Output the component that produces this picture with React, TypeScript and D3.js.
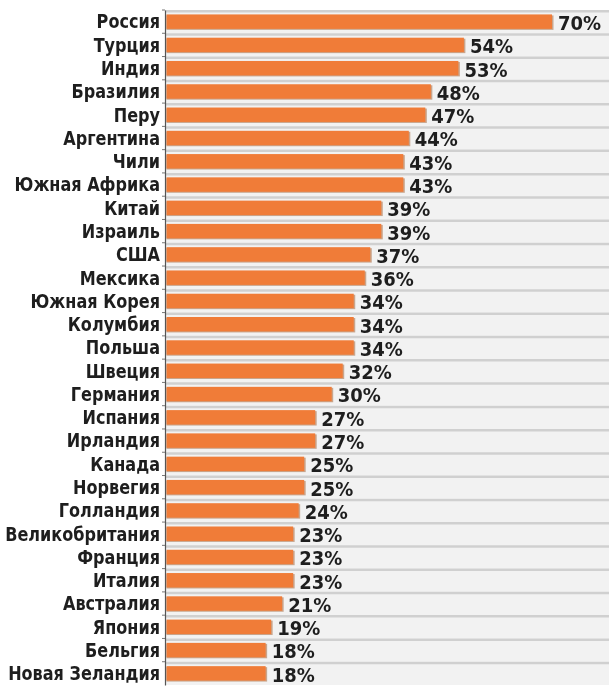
// @ts-nocheck
import { useRef, useEffect } from "react";
import * as d3 from "d3";

const countries = [
  "Россия", "Турция", "Индия", "Бразилия", "Перу", "Аргентина", "Чили",
  "Южная Африка", "Китай", "Израиль", "США", "Мексика", "Южная Корея",
  "Колумбия", "Польша", "Швеция", "Германия", "Испания", "Ирландия", "Канада",
  "Норвегия", "Голландия", "Великобритания", "Франция", "Италия", "Австралия",
  "Япония", "Бельгия", "Новая Зеландия",
];

const values = [
  70, 54, 53, 48, 47, 44, 43, 43, 39, 39, 37, 36, 34, 34, 34, 32, 30, 27, 27,
  25, 25, 24, 23, 23, 23, 21, 19, 18, 18,
];

const FONT = "'DejaVu Sans Condensed', 'Liberation Sans Narrow', sans-serif";
const SQUEEZE = 0.94;

const BarChart = ({ width = 609, height = 687 }) => {
  const svgRef = useRef();

  useEffect(() => {
    const data = countries.map((c, i) => ({ country: c, value: values[i] }));

    const svg = d3.select(svgRef.current);
    svg.selectAll("*").remove();

    const left = 165;
    const x = d3.scaleLinear().domain([0, 70]).range([left + 1.5, 552]);
    const y = d3
      .scaleBand()
      .domain(countries)
      .range([10, 685])
      .paddingInner(0.38)
      .paddingOuter(0.19);
    const step = y.step();
    const rowTop = (d) => y(d.country) - step * 0.19;

    svg.attr("width", width).attr("height", height);

    // row backgrounds
    const rows = svg.append("g");
    rows
      .selectAll("rect")
      .data(data)
      .enter()
      .append("rect")
      .attr("x", left)
      .attr("y", rowTop)
      .attr("width", width - left)
      .attr("height", step)
      .attr("fill", "#f2f2f2");
    rows
      .selectAll("line")
      .data(data)
      .enter()
      .append("line")
      .attr("x1", left)
      .attr("x2", width)
      .attr("y1", (d) => rowTop(d) + 1.2)
      .attr("y2", (d) => rowTop(d) + 1.2)
      .attr("stroke", "#d0d0d0")
      .attr("stroke-width", 2.5);

    // bar shadows + bars
    svg
      .append("g")
      .selectAll("rect")
      .data(data)
      .enter()
      .append("rect")
      .attr("x", x(0))
      .attr("y", (d) => y(d.country) + 1)
      .attr("width", (d) => x(d.value) - x(0) + 1.5)
      .attr("height", y.bandwidth())
      .attr("fill", "#c9a58c");
    svg
      .append("g")
      .selectAll("rect")
      .data(data)
      .enter()
      .append("rect")
      .attr("x", x(0))
      .attr("y", (d) => y(d.country))
      .attr("width", (d) => x(d.value) - x(0))
      .attr("height", y.bandwidth())
      .attr("fill", "#f07c38");

    // axis
    const axis = svg
      .append("g")
      .attr("transform", `translate(${left},0)`)
      .call(d3.axisLeft(y).tickSize(0).tickPadding(0));
    axis.select(".domain").attr("stroke", "#555").attr("stroke-width", 1.2);
    axis
      .selectAll(".tick text")
      .attr("x", -5 / SQUEEZE)
      .attr("transform", `scale(${SQUEEZE},1)`)
      .attr("font-family", FONT)
      .attr("font-weight", "bold")
      .attr("font-size", "19px")
      .attr("fill", "#1e1e1e")
      .attr("dy", "0.36em");

    // small ticks at row boundaries
    svg
      .append("g")
      .selectAll("line")
      .data(data)
      .enter()
      .append("line")
      .attr("x1", left - 3)
      .attr("x2", left)
      .attr("y1", rowTop)
      .attr("y2", rowTop)
      .attr("stroke", "#777");

    // value labels
    svg
      .append("g")
      .selectAll("text")
      .data(data)
      .enter()
      .append("text")
      .attr("x", (d) => x(d.value) + 6)
      .attr("y", (d) => y(d.country) + y.bandwidth() / 2)
      .attr("dy", "0.42em")
      .attr("font-family", FONT)
      .attr("font-weight", "bold")
      .attr("font-size", "20px")
      .attr("fill", "#1e1e1e")
      .text((d) => `${d.value}%`);
  }, []);

  return (
    <svg
      ref={svgRef}
      style={{ position: "fixed", top: 0, left: 0, display: "block" }}
    ></svg>
  );
};

export default function App() {
  return <BarChart />;
}
